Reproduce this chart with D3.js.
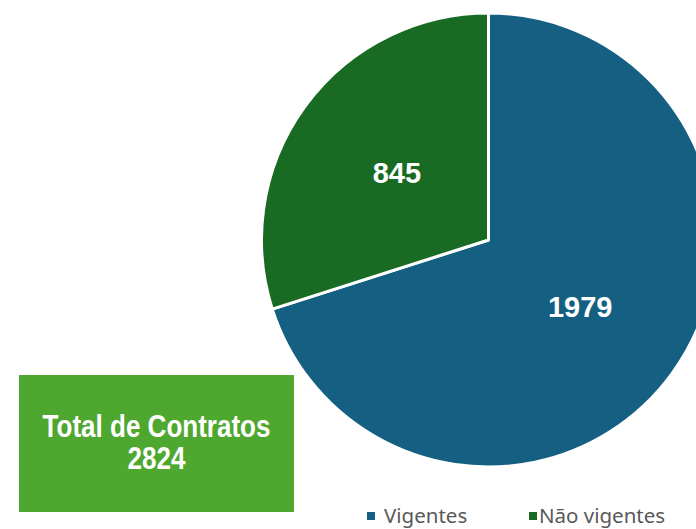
<!DOCTYPE html>
<head>
  <script src="https://d3js.org/d3.v7.min.js"></script>
  <style>
    body { margin: 0; background: #fff; }
  </style>
</head>
<body>
<script type="text/javascript">
  var categories = ["Vigentes", "Não vigentes"];
  var values = [1979, 845];
  var colors = ["#156082", "#196B24"];
  var totalLabel = "Total de Contratos";

  var w = 696, h = 529;
  var cx = 488.5, cy = 240, r = 227;

  var svg = d3.select("body").append("svg")
    .attr("width", w)
    .attr("height", h);

  var pie = d3.pie().sort(null)(values);
  var arc = d3.arc().innerRadius(0).outerRadius(r);
  var labelArc = d3.arc().innerRadius(r * 0.5).outerRadius(r * 0.5);

  var g = svg.append("g").attr("transform", "translate(" + cx + "," + cy + ")");

  g.selectAll("path")
    .data(pie)
    .enter()
    .append("path")
    .attr("d", arc)
    .attr("fill", function(d, i) { return colors[i]; })
    .attr("stroke", "#fff")
    .attr("stroke-width", 3)
    .attr("stroke-linejoin", "round");

  g.selectAll("text.lbl")
    .data(pie)
    .enter()
    .append("text")
    .attr("class", "lbl")
    .attr("transform", function(d) {
      var c = labelArc.centroid(d);
      return "translate(" + c[0] + "," + (c[1] + 10) + ")";
    })
    .attr("text-anchor", "middle")
    .attr("font-family", "'Liberation Sans', Arial, sans-serif")
    .attr("font-weight", "bold")
    .attr("font-size", 29)
    .attr("fill", "#fff")
    .text(function(d) { return d.data; });

  // total box
  var total = d3.sum(values);
  svg.append("rect")
    .attr("x", 19).attr("y", 375)
    .attr("width", 275).attr("height", 137)
    .attr("fill", "#4EA72E");

  var bx = 19 + 275 / 2;
  [totalLabel, String(total)].forEach(function(t, i) {
    svg.append("text")
      .attr("transform", "translate(" + bx + "," + (437 + i * 32) + ") scale(0.84,1)")
      .attr("text-anchor", "middle")
      .attr("font-family", "'Liberation Sans', Arial, sans-serif")
      .attr("font-weight", "bold")
      .attr("font-size", 31)
      .attr("fill", "#fff")
      .text(t);
  });

  // legend
  var legendX = [367, 529];
  var leg = svg.selectAll("g.leg")
    .data(categories)
    .enter()
    .append("g")
    .attr("class", "leg")
    .attr("transform", function(d, i) { return "translate(" + legendX[i] + ",0)"; });

  leg.append("rect")
    .attr("x", 0).attr("y", 512)
    .attr("width", 8).attr("height", 8)
    .attr("fill", function(d, i) { return colors[i]; });

  leg.append("text")
    .attr("x", function(d, i) { return i === 0 ? 17 : 10; })
    .attr("y", 523)
    .attr("font-family", "'Noto Sans', sans-serif")
    .attr("font-size", 20.5)
    .attr("fill", "#595959")
    .text(function(d) { return d; });
</script>
</body>
